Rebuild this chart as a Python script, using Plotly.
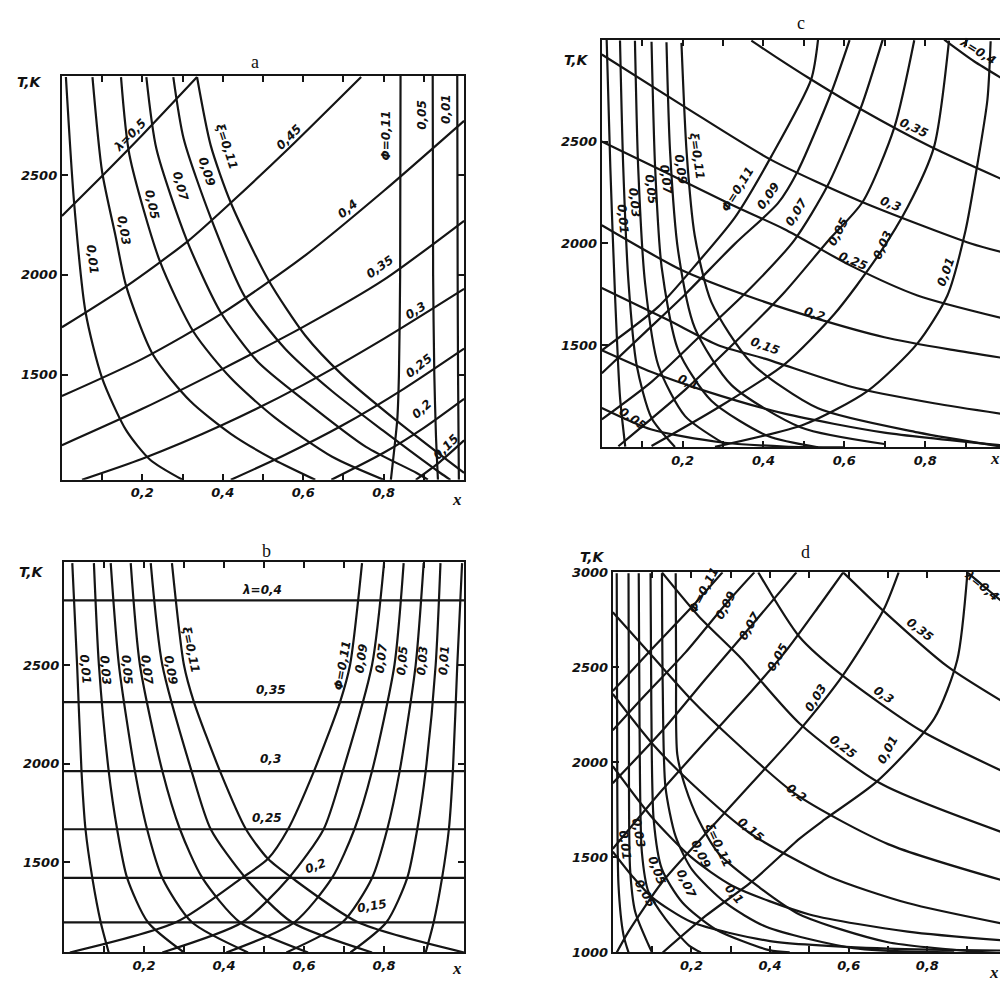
import plotly.graph_objects as go

# The page body keeps an 8 px default margin, so the figure is drawn 8 px in from the window corner.
OFF = 8
W, H = 1000, 982

# ---------------- panel a : (x, T) points ----------------
a_lam_050 = [(0.0, 2295), (0.10, 2495), (0.20, 2700), (0.336, 2990)]
a_lam_045 = [(0.0, 1738), (0.16, 1943), (0.315, 2172), (0.42, 2361), (0.563, 2631), (0.744, 2990)]
a_lam_040 = [(0.0, 1394), (0.2, 1580), (0.4, 1810), (0.6, 2090), (0.8, 2420), (1.0, 2771)]
a_lam_035 = [(0.0, 1148), (0.2, 1330), (0.4, 1530), (0.6, 1740), (0.8, 1975), (1.0, 2271)]
a_lam_030 = [(0.05, 975), (0.2, 1080), (0.4, 1250), (0.6, 1450), (0.8, 1680), (1.0, 1930)]
a_lam_025 = [(0.42, 975), (0.55, 1095), (0.7, 1250), (0.85, 1430), (1.0, 1631)]
a_lam_020 = [(0.67, 975), (0.8, 1110), (0.9, 1235), (1.0, 1380)]
a_lam_015 = [(0.88, 975), (0.94, 1065), (1.0, 1172)]

a_xi_001 = [(0.01, 2990), (0.03, 2370), (0.059, 1812), (0.10, 1484), (0.16, 1222), (0.22, 1074), (0.30, 975)]
a_xi_003 = [(0.076, 2990), (0.10, 2516), (0.134, 2189), (0.16, 1943), (0.227, 1599), (0.319, 1369),
            (0.42, 1205), (0.529, 1074), (0.63, 975)]
a_xi_005 = [(0.147, 2990), (0.168, 2600), (0.244, 2066), (0.328, 1713), (0.42, 1484), (0.529, 1287),
            (0.672, 1090), (0.80, 975)]
a_xi_007 = [(0.21, 2990), (0.235, 2631), (0.311, 2172), (0.395, 1812), (0.487, 1566), (0.605, 1369),
            (0.756, 1140), (0.882, 1009), (0.91, 975)]
a_xi_009 = [(0.277, 2990), (0.303, 2680), (0.37, 2287), (0.454, 1894), (0.555, 1631), (0.672, 1418),
            (0.798, 1222), (0.941, 1009), (0.966, 975)]
a_xi_011 = [(0.336, 2990), (0.37, 2648), (0.42, 2361), (0.513, 1976), (0.605, 1697), (0.697, 1500),
            (0.832, 1271), (1.0, 1009)]

a_phi_011 = [(0.842, 2995), (0.841, 2000), (0.838, 1500), (0.834, 1280), (0.826, 1120), (0.818, 975)]
a_phi_005 = [(0.922, 2995), (0.923, 2000), (0.926, 1500), (0.93, 1200), (0.935, 975)]
a_phi_001 = [(0.983, 2995), (0.984, 2000), (0.985, 1500), (0.987, 975)]

# ---------------- panel b ----------------
b_lam_vals = [0.4, 0.35, 0.3, 0.25, 0.2, 0.15]
b_lam_T = [2828, 2312, 1962, 1667, 1420, 1195]

b_xi_001 = [(0.021, 3017), (0.033, 2500), (0.044, 1962), (0.054, 1667), (0.071, 1420), (0.092, 1195), (0.112, 1042)]
b_xi_003 = [(0.075, 3017), (0.0875, 2500), (0.112, 1962), (0.133, 1667), (0.158, 1420), (0.21, 1195), (0.30, 1042)]
b_xi_005 = [(0.117, 3017), (0.1375, 2500), (0.1775, 1962), (0.208, 1667), (0.246, 1420), (0.32, 1195), (0.46, 1042)]
b_xi_007 = [(0.167, 3017), (0.19, 2500), (0.246, 1962), (0.29, 1667), (0.346, 1420), (0.44, 1195), (0.61, 1042)]
b_xi_009 = [(0.217, 3017), (0.246, 2500), (0.319, 1962), (0.367, 1667), (0.454, 1420), (0.57, 1195), (0.77, 1042)]
b_xi_011 = [(0.27, 3017), (0.30, 2500), (0.325, 2312), (0.39, 1962), (0.455, 1667), (0.51, 1517),
            (0.57, 1420), (0.735, 1195), (1.0, 1042)]

b_phi_001 = [(0.995, 3017), (0.983, 2500), (0.972, 1962), (0.962, 1667), (0.945, 1420), (0.924, 1195), (0.904, 1042)]
b_phi_003 = [(0.941, 3017), (0.929, 2500), (0.904, 1962), (0.883, 1667), (0.858, 1420), (0.806, 1195), (0.716, 1042)]
b_phi_005 = [(0.899, 3017), (0.879, 2500), (0.839, 1962), (0.808, 1667), (0.77, 1420), (0.696, 1195), (0.556, 1042)]
b_phi_007 = [(0.849, 3017), (0.826, 2500), (0.77, 1962), (0.726, 1667), (0.67, 1420), (0.576, 1195), (0.406, 1042)]
b_phi_009 = [(0.80, 3017), (0.77, 2500), (0.697, 1962), (0.649, 1667), (0.562, 1420), (0.446, 1195), (0.246, 1042)]
b_phi_011 = [(0.745, 3017), (0.715, 2500), (0.69, 2312), (0.625, 1962), (0.56, 1667), (0.51, 1517),
             (0.445, 1420), (0.28, 1195), (0.015, 1042)]

# ---------------- panel c ----------------
c_lam_040 = [(0.847, 3000), (0.92, 2895), (1.0, 2798)]
c_lam_035 = [(0.37, 2995), (0.436, 2908), (0.51, 2814), (0.641, 2658), (0.814, 2474), (1.0, 2306)]
c_lam_030 = [(0.0, 2927), (0.206, 2669), (0.419, 2410), (0.641, 2206), (0.913, 2000), (1.0, 1952)]
c_lam_025 = [(0.0, 2500), (0.156, 2350), (0.321, 2190), (0.452, 2070), (0.617, 1890), (0.781, 1745), (1.0, 1629)]
c_lam_020 = [(0.0, 2089), (0.197, 1870), (0.37, 1736), (0.526, 1635), (0.699, 1540), (0.863, 1479), (1.0, 1436)]
c_lam_015 = [(0.0, 1782), (0.164, 1624), (0.288, 1501), (0.403, 1435), (0.617, 1297), (0.822, 1216), (1.0, 1161)]
c_lam_010 = [(0.0, 1476), (0.123, 1369), (0.255, 1277), (0.452, 1165), (0.699, 1072), (1.0, 1008)]
c_lam_005 = [(0.0, 1193), (0.123, 1087), (0.288, 1026), (0.452, 1004), (0.6, 1000)]

c_phi_011 = [(0.0, 1476), (0.14, 1690), (0.238, 1908), (0.329, 2127), (0.419, 2426), (0.518, 2805), (0.535, 3000)]
c_phi_009 = [(0.0, 1363), (0.107, 1564), (0.206, 1750), (0.329, 1998), (0.436, 2198), (0.485, 2356),
             (0.567, 2737), (0.613, 2998)]
c_phi_007 = [(0.0, 1137), (0.123, 1321), (0.247, 1553), (0.37, 1785), (0.477, 2018), (0.559, 2285),
             (0.641, 2666), (0.695, 3000)]
c_phi_005 = [(0.041, 1005), (0.206, 1282), (0.329, 1514), (0.452, 1761), (0.559, 2011), (0.646, 2206),
             (0.724, 2571), (0.773, 2997)]
c_phi_003 = [(0.123, 1006), (0.288, 1195), (0.452, 1407), (0.576, 1655), (0.68, 1930), (0.757, 2180),
             (0.822, 2474), (0.859, 2995)]
c_phi_001 = [(0.28, 1002), (0.502, 1113), (0.658, 1277), (0.781, 1510), (0.855, 1745), (0.9, 2065),
             (0.929, 2385), (0.954, 2705), (0.962, 2992)]

c_xi_001 = [(0.012, 2999), (0.021, 2377), (0.033, 1731), (0.045, 1247), (0.058, 1003)]
c_xi_003 = [(0.045, 2996), (0.053, 2375), (0.066, 1810), (0.086, 1405), (0.123, 1144), (0.181, 1002)]
c_xi_005 = [(0.082, 2994), (0.09, 2372), (0.107, 1806), (0.14, 1400), (0.206, 1153), (0.304, 1016)]
c_xi_007 = [(0.123, 2990), (0.132, 2368), (0.148, 1884), (0.189, 1477), (0.271, 1228), (0.411, 1055), (0.535, 1000)]
c_xi_009 = [(0.16, 2987), (0.169, 2447), (0.189, 1961), (0.23, 1586), (0.321, 1305), (0.493, 1097), (0.699, 1016)]
c_xi_011 = [(0.197, 2984), (0.21, 2443), (0.23, 2038), (0.271, 1712), (0.37, 1414), (0.535, 1191),
            (0.781, 1073), (1.0, 1000)]

# ---------------- panel d ----------------
d_lam_040 = [(0.902, 3000), (0.95, 2915), (1.0, 2829)]
d_lam_035 = [(0.586, 3000), (0.689, 2796), (0.851, 2505), (1.0, 2309)]
d_lam_030 = [(0.37, 3000), (0.475, 2660), (0.582, 2460), (0.782, 2169), (1.0, 1945)]
d_lam_025 = [(0.125, 3000), (0.219, 2768), (0.322, 2557), (0.475, 2205), (0.68, 1890), (1.0, 1625)]
d_lam_020 = [(0.0, 2790), (0.1, 2560), (0.2, 2330), (0.3, 2130), (0.467, 1830), (0.7, 1570), (1.0, 1374)]
d_lam_015 = [(0.0, 2360), (0.1, 2100), (0.2, 1890), (0.347, 1630), (0.55, 1400), (0.75, 1260), (1.0, 1148)]
d_lam_010 = [(0.0, 1980), (0.1, 1710), (0.2, 1500), (0.305, 1350), (0.5, 1200), (0.75, 1110), (1.0, 1062)]
d_lam_005 = [(0.0, 1530), (0.05, 1400), (0.1, 1290), (0.2, 1160), (0.4, 1060), (0.7, 1020), (1.0, 1010)]

d_phi_011 = [(0.0, 2376), (0.1, 2598), (0.202, 2820), (0.279, 3000)]
d_phi_009 = [(0.0, 2169), (0.083, 2356), (0.185, 2579), (0.288, 2835), (0.36, 3000)]
d_phi_007 = [(0.0, 1891), (0.125, 2165), (0.236, 2439), (0.356, 2728), (0.467, 3000)]
d_phi_005 = [(0.0, 1545), (0.125, 1853), (0.236, 2110), (0.356, 2382), (0.441, 2588), (0.526, 2827), (0.586, 3000)]
d_phi_003 = [(0.01, 1000), (0.04, 1110), (0.125, 1368), (0.236, 1625), (0.356, 1897), (0.475, 2170),
             (0.586, 2461), (0.689, 2804), (0.727, 3000)]
d_phi_001 = [(0.125, 996), (0.236, 1192), (0.356, 1377), (0.475, 1599), (0.539, 1700), (0.672, 1900),
             (0.817, 2229), (0.876, 2539), (0.902, 3000)]

d_xi_011 = [(0.16, 2995), (0.161, 2500), (0.164, 2042), (0.185, 1868), (0.219, 1694), (0.27, 1519),
            (0.373, 1342), (0.475, 1200), (0.697, 1055), (1.0, 993)]
d_xi_009 = [(0.125, 2995), (0.127, 2400), (0.134, 1870), (0.16, 1609), (0.202, 1434), (0.288, 1259),
            (0.39, 1135), (0.612, 1023), (0.868, 1000)]
d_xi_007 = [(0.096, 2995), (0.098, 2300), (0.104, 1698), (0.125, 1438), (0.177, 1263), (0.262, 1121),
            (0.398, 1012), (0.45, 1000)]
d_xi_005 = [(0.066, 2995), (0.068, 2200), (0.074, 1526), (0.091, 1317), (0.134, 1177), (0.194, 1036), (0.224, 1000)]
d_xi_003 = [(0.04, 2995), (0.041, 2200), (0.044, 1440), (0.057, 1214), (0.091, 1039), (0.10, 1000)]
d_xi_001 = [(0.01, 2995), (0.011, 2200), (0.0145, 1355), (0.027, 1094), (0.04, 1000)]

# tick labels
X_TICKS = [0.1, 0.2, 0.3, 0.4, 0.5, 0.6, 0.7, 0.8, 0.9]
X_TICKTEXT = ["", "0,2", "", "0,4", "", "0,6", "", "0,8", ""]

# ---------------- layout geometry (window pixels) ----------------
PANELS = {
    "a": dict(n="", box=(62, 465, 70, 480), yr=(975, 2995), yt=[1500, 2000, 2500]),
    "b": dict(n="2", box=(64, 465, 563, 960), yr=(1042, 3025), yt=[1500, 2000, 2500]),
    "c": dict(n="3", box=(603, 1008, 33, 447), yr=(1000, 3000), yt=[1500, 2000, 2500]),
    "d": dict(n="4", box=(614, 1008, 574, 960), yr=(1000, 3000), yt=[1000, 1500, 2000, 2500, 3000]),
}

CURVES = {
    "a": [a_lam_050, a_lam_045, a_lam_040, a_lam_035, a_lam_030, a_lam_025, a_lam_020, a_lam_015,
          a_xi_001, a_xi_003, a_xi_005, a_xi_007, a_xi_009, a_xi_011,
          a_phi_011, a_phi_005, a_phi_001],
    "b": [b_xi_001, b_xi_003, b_xi_005, b_xi_007, b_xi_009, b_xi_011,
          b_phi_001, b_phi_003, b_phi_005, b_phi_007, b_phi_009, b_phi_011],
    "c": [c_lam_040, c_lam_035, c_lam_030, c_lam_025, c_lam_020, c_lam_015, c_lam_010, c_lam_005,
          c_phi_011, c_phi_009, c_phi_007, c_phi_005, c_phi_003, c_phi_001,
          c_xi_001, c_xi_003, c_xi_005, c_xi_007, c_xi_009, c_xi_011],
    "d": [d_lam_040, d_lam_035, d_lam_030, d_lam_025, d_lam_020, d_lam_015, d_lam_010, d_lam_005,
          d_phi_011, d_phi_009, d_phi_007, d_phi_005, d_phi_003, d_phi_001,
          d_xi_011, d_xi_009, d_xi_007, d_xi_005, d_xi_003, d_xi_001],
}

# curve labels: (text, x, T, angle)
LABELS = {
    "a": [("λ=0,5", 0.17, 2700, -45), ("0,45", 0.565, 2690, -45), ("0,4", 0.71, 2330, -40),
          ("0,35", 0.79, 2040, -35), ("0,3", 0.878, 1820, -32), ("0,25", 0.887, 1545, -38),
          ("0,2", 0.895, 1330, -42), ("0,15", 0.955, 1140, -45),
          ("0,01", 0.076, 2074, 83), ("0,03", 0.155, 2221, 80), ("0,05", 0.223, 2353, 78),
          ("0,07", 0.294, 2443, 75), ("0,09", 0.361, 2516, 72), ("ξ=0,11", 0.41, 2640, 72),
          ("Φ=0,11", 0.807, 2700, -90), ("0,05", 0.895, 2800, -90), ("0,01", 0.955, 2830, -90)],
    "b": [("λ=0,4", 0.496, 2880, 0), ("0,35", 0.517, 2375, 0), ("0,3", 0.517, 2025, 0),
          ("0,25", 0.508, 1725, 0), ("0,2", 0.629, 1480, -20), ("0,15", 0.771, 1280, -10),
          ("0,01", 0.054, 2475, 85), ("0,03", 0.104, 2475, 85), ("0,05", 0.158, 2475, 85),
          ("0,07", 0.208, 2475, 83), ("0,09", 0.267, 2475, 80), ("ξ=0,11", 0.317, 2575, 78),
          ("Φ=0,11", 0.696, 2500, -80), ("0,09", 0.742, 2533, -82), ("0,07", 0.792, 2533, -83),
          ("0,05", 0.846, 2525, -85), ("0,03", 0.896, 2525, -85), ("0,01", 0.95, 2525, -86)],
    "c": [("λ=0,4", 0.93, 2945, 32), ("0,35", 0.773, 2567, 25), ("0,3", 0.715, 2195, 22),
          ("0,25", 0.621, 1912, 22), ("0,2", 0.526, 1655, 18), ("0,15", 0.403, 1495, 20),
          ("0,1", 0.214, 1322, 22), ("0,05", 0.078, 1140, 35),
          ("Φ=0,11", 0.337, 2265, -58), ("0,09", 0.411, 2235, -55), ("0,07", 0.481, 2155, -58),
          ("0,05", 0.584, 2058, -62), ("0,03", 0.695, 1992, -66), ("0,01", 0.851, 1860, -70),
          ("ξ=0,11", 0.236, 2430, 82), ("0,09", 0.195, 2365, 82), ("0,07", 0.158, 2315, 82),
          ("0,05", 0.121, 2266, 83), ("0,03", 0.082, 2200, 84), ("0,01", 0.052, 2120, 85)],
    "d": [("λ=0,4", 0.94, 2930, 40), ("0,35", 0.782, 2697, 38), ("0,3", 0.689, 2354, 35),
          ("0,25", 0.586, 2080, 37), ("0,2", 0.467, 1841, 37), ("0,15", 0.352, 1646, 40),
          ("0,1", 0.309, 1310, 50), ("0,05", 0.083, 1308, 60),
          ("Φ=0,11", 0.232, 2906, -62), ("0,09", 0.288, 2827, -62), ("0,07", 0.347, 2720, -60),
          ("0,05", 0.42, 2553, -60), ("0,03", 0.518, 2342, -58), ("0,01", 0.701, 2068, -62),
          ("ξ=0,11", 0.27, 1562, 65), ("0,09", 0.224, 1518, 65), ("0,07", 0.185, 1363, 65),
          ("0,05", 0.113, 1430, 70), ("0,03", 0.066, 1630, 80), ("0,01", 0.032, 1562, 82)],
}

# captions (window pixel positions): panel letter, "T,K", "x"
CAPTIONS = {
    "a": dict(letter=(255, 56), tk=(30, 76), xl=(458, 500)),
    "b": dict(letter=(267, 552), tk=(32, 574), xl=(458, 976)),
    "c": dict(letter=(803, 16), tk=(578, 54), xl=(997, 458)),
    "d": dict(letter=(807, 553), tk=(594, 558), xl=(996, 980)),
}

def px_x(px):
    return (px - OFF) / W

def px_y(py):
    return 1 - (py - OFF) / H

LINE = dict(color="#151515", width=2.2)
NUMFONT = dict(family="DejaVu Sans", size=12, color="#111", style="italic", weight="bold")

fig = go.Figure()
layout = dict(width=W, height=H, margin=dict(l=0, r=0, t=0, b=0), showlegend=False,
              paper_bgcolor="white", plot_bgcolor="white")
annotations = []

for key, p in PANELS.items():
    n = p["n"]
    xa, ya = "x" + n, "y" + n
    x0, x1, y0, y1 = p["box"]
    layout["xaxis" + n] = dict(domain=[max(0, px_x(x0)), min(1, px_x(x1))], range=[0, 1], anchor=ya,
                               showline=True, linecolor="#151515", linewidth=2.2, mirror="ticks",
                               ticks="inside", ticklen=6, tickwidth=1.6, tickcolor="#151515",
                               tickvals=X_TICKS, ticktext=X_TICKTEXT, showgrid=False, zeroline=False,
                               tickfont=dict(NUMFONT, size=13), fixedrange=True)
    layout["yaxis" + n] = dict(domain=[max(0, px_y(y1)), min(1, px_y(y0))], range=list(p["yr"]), anchor=xa,
                               showline=True, linecolor="#151515", linewidth=2.2, mirror="ticks",
                               ticks="inside", ticklen=6, tickwidth=1.6, tickcolor="#151515",
                               tickvals=p["yt"], ticktext=[str(v) for v in p["yt"]],
                               showgrid=False, zeroline=False, tickfont=dict(NUMFONT, size=13),
                               fixedrange=True)
    for pts in CURVES[key]:
        fig.add_trace(go.Scatter(x=[q[0] for q in pts], y=[q[1] for q in pts], mode="lines",
                                 line=dict(LINE, shape="spline", smoothing=0.7),
                                 xaxis=xa, yaxis=ya, hoverinfo="skip"))
    if key == "b":
        for T in b_lam_T:
            fig.add_trace(go.Scatter(x=[0, 1], y=[T, T], mode="lines", line=LINE,
                                     xaxis=xa, yaxis=ya, hoverinfo="skip"))
    for (txt, lx, ly, ang) in LABELS[key]:
        annotations.append(dict(text=txt, x=lx, y=ly, xref=xa, yref=ya, showarrow=False,
                                textangle=ang, font=NUMFONT, xanchor="center", yanchor="middle"))
    cap = CAPTIONS[key]
    annotations.append(dict(text=key, x=px_x(cap["letter"][0]), y=px_y(cap["letter"][1]),
                            xref="paper", yref="paper", showarrow=False,
                            xanchor="center", yanchor="middle",
                            font=dict(family="Liberation Serif", size=18, color="#111")))
    annotations.append(dict(text="T,K", x=px_x(cap["tk"][0]), y=px_y(cap["tk"][1]),
                            xref="paper", yref="paper", showarrow=False,
                            xanchor="center", yanchor="middle",
                            font=dict(NUMFONT, size=14)))
    annotations.append(dict(text="x", x=px_x(cap["xl"][0]), y=px_y(cap["xl"][1]),
                            xref="paper", yref="paper", showarrow=False,
                            xanchor="center", yanchor="middle",
                            font=dict(family="Liberation Serif", size=17, color="#111",
                                      style="italic", weight="bold")))

layout["annotations"] = annotations
fig.update_layout(**layout)
fig.write_html("out.html")
